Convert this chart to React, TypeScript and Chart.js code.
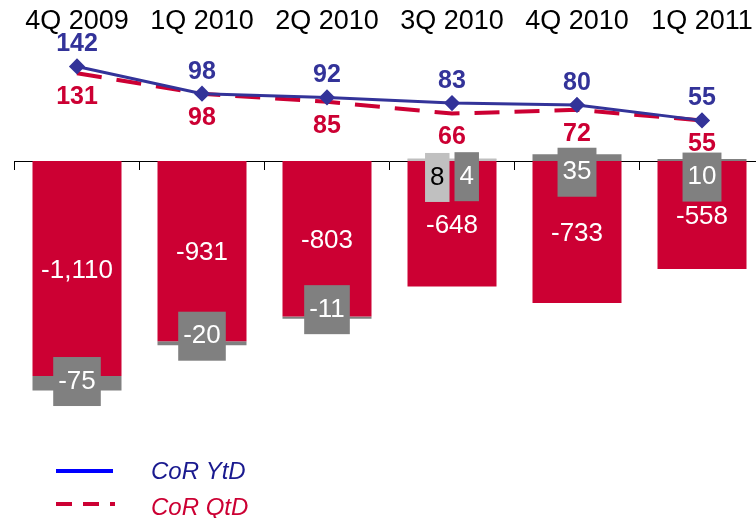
import { useEffect, useRef } from "react";
import { Chart, registerables } from "chart.js";

Chart.register(...registerables);

const categories = ["4Q 2009", "1Q 2010", "2Q 2010", "3Q 2010", "4Q 2010", "1Q 2011"];
const provisions = [-1110, -931, -803, -648, -733, -558];
const otherLight: (number | null)[] = [null, null, null, 8, null, null];
const otherDark: (number | null)[] = [-75, -20, -11, 4, 35, 10];
const corYtd = [142, 98, 92, 83, 80, 55];
const corQtd = [131, 98, 85, 66, 72, 55];
const seriesNames = ["CoR YtD", "CoR QtD"];

const FONT = '"Liberation Sans", Arial, Helvetica, sans-serif';
const RED = "#CC0033";
const NAVY = "#333399";
const DARK_GRAY = "#808080";
const LIGHT_GRAY = "#C0C0C0";

const fmt = (v: number) => v.toLocaleString("en-US");

const labelPlugin = {
  id: "customLabels",
  afterDraw(chart: any) {
    const ctx = chart.ctx as CanvasRenderingContext2D;
    ctx.save();
    ctx.textAlign = "center";
    ctx.textBaseline = "middle";

    // red bar labels
    const redMeta = chart.getDatasetMeta(2);
    ctx.font = `26px ${FONT}`;
    ctx.fillStyle = "#FFFFFF";
    redMeta.data.forEach((el: any, j: number) => {
      const p = el.getProps(["x", "y", "base"], true);
      ctx.fillText(fmt(provisions[j]), p.x, (p.y + p.base) / 2 + 2);
    });

    // gray boxed labels
    const grayDefs = [
      { idx: 3, values: otherLight, bg: LIGHT_GRAY, fg: "#000000" },
      { idx: 4, values: otherDark, bg: DARK_GRAY, fg: "#FFFFFF" },
    ];
    const boxH = 49;
    const padX = 5;
    const gap = 5;
    categories.forEach((_, j) => {
      const items: any[] = [];
      grayDefs.forEach((d) => {
        const v = d.values[j];
        if (v === null || v === undefined) return;
        const el = chart.getDatasetMeta(d.idx).data[j];
        const p = el.getProps(["x", "y", "base"], true);
        const text = fmt(v);
        const w = ctx.measureText(text).width + padX * 2;
        const cy = v < 0 ? p.y - 9 : p.y + 18;
        items.push({ text, w, cy, x: p.x, bg: d.bg, fg: d.fg });
      });
      if (!items.length) return;
      const total = items.reduce((s, it) => s + it.w, 0) + gap * (items.length - 1);
      let left = items[0].x - total / 2;
      items.forEach((it) => {
        ctx.fillStyle = it.bg;
        ctx.fillRect(left, it.cy - boxH / 2, it.w, boxH);
        ctx.fillStyle = it.fg;
        ctx.fillText(it.text, left + it.w / 2, it.cy);
        left += it.w + gap;
      });
    });

    // line labels
    ctx.font = `bold 25px ${FONT}`;
    const ytdMeta = chart.getDatasetMeta(0);
    ctx.fillStyle = NAVY;
    ytdMeta.data.forEach((el: any, j: number) => {
      const p = el.getProps(["x", "y"], true);
      ctx.fillText(String(corYtd[j]), p.x, p.y - 22);
    });
    const qtdMeta = chart.getDatasetMeta(1);
    ctx.fillStyle = RED;
    qtdMeta.data.forEach((el: any, j: number) => {
      const p = el.getProps(["x", "y"], true);
      ctx.fillText(String(corQtd[j]), p.x, p.y + 24);
    });

    // legend
    ctx.textAlign = "left";
    ctx.font = `italic 24px ${FONT}`;
    ctx.lineCap = "butt";
    ctx.strokeStyle = "#0000FF";
    ctx.lineWidth = 4;
    ctx.setLineDash([]);
    ctx.beginPath();
    ctx.moveTo(56, 471);
    ctx.lineTo(113, 471);
    ctx.stroke();
    ctx.fillStyle = "#1A1A8F";
    ctx.fillText(seriesNames[0], 151, 472);
    ctx.strokeStyle = RED;
    ctx.lineWidth = 4;
    ctx.setLineDash([16, 11]);
    ctx.beginPath();
    ctx.moveTo(56, 504);
    ctx.lineTo(115, 504);
    ctx.stroke();
    ctx.setLineDash([]);
    ctx.fillStyle = RED;
    ctx.fillText(seriesNames[1], 151, 508);

    ctx.restore();
  },
};

export default function App() {
  const ref = useRef<HTMLCanvasElement | null>(null);

  useEffect(() => {
    if (!ref.current) return;
    const chart = new Chart(ref.current, {
      type: "bar",
      data: {
        labels: categories,
        datasets: [
          {
            type: "line",
            label: seriesNames[0],
            data: corYtd,
            yAxisID: "y2",
            borderColor: NAVY,
            backgroundColor: NAVY,
            borderWidth: 3,
            pointStyle: "rectRot",
            pointRadius: 6,
            pointBackgroundColor: NAVY,
            pointBorderColor: NAVY,
            tension: 0,
            fill: false,
            order: 0,
          } as any,
          {
            type: "line",
            label: seriesNames[1],
            data: corQtd,
            yAxisID: "y2",
            borderColor: RED,
            backgroundColor: RED,
            borderWidth: 4,
            borderDash: [25, 15],
            pointRadius: 0,
            tension: 0,
            fill: false,
            order: 1,
          } as any,
          {
            label: "Provisions",
            data: provisions,
            backgroundColor: RED,
            barPercentage: 0.712,
            categoryPercentage: 1,
            order: 2,
          },
          {
            label: "Other light",
            data: otherLight,
            backgroundColor: LIGHT_GRAY,
            barPercentage: 0.712,
            categoryPercentage: 1,
            order: 3,
          },
          {
            label: "Other dark",
            data: otherDark,
            backgroundColor: DARK_GRAY,
            barPercentage: 0.712,
            categoryPercentage: 1,
            order: 4,
          },
        ],
      },
      options: {
        responsive: false,
        animation: false,
        devicePixelRatio: 1,
        layout: { padding: { top: 6.4, bottom: 105.2, left: 14.5, right: 15.5 } },
        plugins: {
          legend: { display: false },
          tooltip: { enabled: false },
        },
        scales: {
          x: {
            type: "category",
            position: { y: 0 } as any,
            stacked: true,
            offset: true,
            z: 1,
            grid: {
              offset: true,
              drawOnChartArea: false,
              drawTicks: true,
              tickLength: 8,
              color: "#000000",
              lineWidth: 1,
            },
            border: { display: true, color: "#000000", width: 1 },
            ticks: { display: false },
          },
          xt: {
            type: "category",
            position: "top",
            offset: true,
            grid: { display: false, drawTicks: false },
            border: { display: false },
            ticks: {
              font: { family: FONT, size: 27 },
              color: "#000000",
              padding: 7.2,
              maxRotation: 0,
              autoSkip: false,
            },
            afterFit: (scale: any) => {
              scale.height = 38.4;
            },
          },
          y: { stacked: true, min: -1300, max: 600, display: false },
          y2: { min: -417, max: 177, display: false },
        },
      } as any,
      plugins: [labelPlugin],
    });
    return () => chart.destroy();
  }, []);

  return (
    <div
      style={{
        position: "fixed",
        left: 0,
        top: 0,
        width: 756,
        height: 518,
        overflow: "hidden",
        background: "#FFFFFF",
      }}
    >
      <canvas ref={ref} width={780} height={518} style={{ display: "block" }} />
    </div>
  );
}
